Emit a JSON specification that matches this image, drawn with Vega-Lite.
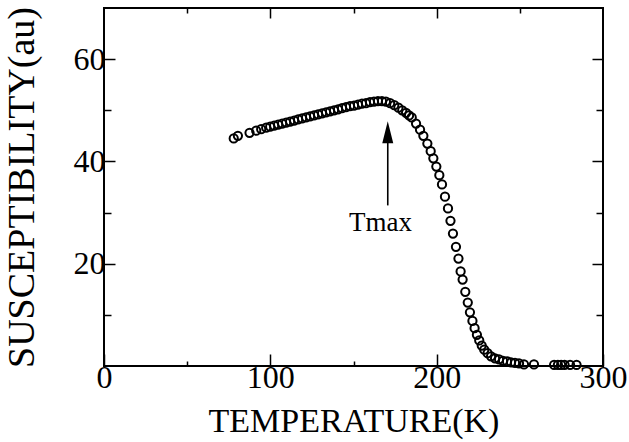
{
  "$schema": "https://vega.github.io/schema/vega-lite/v6.json",
  "width": 499,
  "height": 358,
  "autosize": {"type": "none"},
  "padding": {"left": 104, "top": 8, "right": 26, "bottom": 76},
  "background": "white",
  "config": {
    "view": {"stroke": "black", "strokeWidth": 2},
    "font": "Liberation Serif",
    "axis": {"grid": false, "domain": false, "tickColor": "black", "tickWidth": 1.5, "labelColor": "black", "titleColor": "black", "labelFont": "Liberation Serif", "titleFont": "Liberation Serif", "titleFontWeight": "normal", "labelOverlap": false, "labelFlush": false}
  },
  "datasets": {
    "chi": [
      {"T": 78.0, "chi": 44.5}, {"T": 80.5, "chi": 45.0}, {"T": 87.5, "chi": 45.6}, {"T": 91.5, "chi": 46.0}, {"T": 94.5, "chi": 46.3},
      {"T": 97.5, "chi": 46.6}, {"T": 99.9, "chi": 46.8}, {"T": 102.3, "chi": 47.0}, {"T": 104.7, "chi": 47.2}, {"T": 107.1, "chi": 47.4},
      {"T": 109.5, "chi": 47.6}, {"T": 111.9, "chi": 47.8}, {"T": 114.3, "chi": 48.0}, {"T": 116.7, "chi": 48.2}, {"T": 119.1, "chi": 48.4},
      {"T": 121.5, "chi": 48.6}, {"T": 123.9, "chi": 48.8}, {"T": 126.3, "chi": 49.0}, {"T": 128.7, "chi": 49.2}, {"T": 131.1, "chi": 49.4},
      {"T": 133.5, "chi": 49.6}, {"T": 135.9, "chi": 49.8}, {"T": 138.3, "chi": 50.0}, {"T": 140.7, "chi": 50.2}, {"T": 143.1, "chi": 50.4},
      {"T": 145.5, "chi": 50.6}, {"T": 147.9, "chi": 50.8}, {"T": 150.3, "chi": 50.9}, {"T": 152.7, "chi": 51.1}, {"T": 155.1, "chi": 51.3},
      {"T": 157.5, "chi": 51.4}, {"T": 159.9, "chi": 51.6}, {"T": 162.3, "chi": 51.7}, {"T": 164.7, "chi": 51.8}, {"T": 167.1, "chi": 51.8},
      {"T": 169.5, "chi": 51.7}, {"T": 172.0, "chi": 51.4}, {"T": 174.5, "chi": 51.0}, {"T": 177.0, "chi": 50.5}, {"T": 179.3, "chi": 50.0},
      {"T": 181.6, "chi": 49.5}, {"T": 183.4, "chi": 49.0}, {"T": 185.0, "chi": 48.6}, {"T": 187.6, "chi": 47.4}, {"T": 190.0, "chi": 46.2},
      {"T": 192.0, "chi": 45.0}, {"T": 194.4, "chi": 43.5}, {"T": 196.4, "chi": 42.0}, {"T": 198.0, "chi": 40.6}, {"T": 199.8, "chi": 39.0},
      {"T": 201.6, "chi": 37.3}, {"T": 203.2, "chi": 35.5}, {"T": 205.0, "chi": 33.1}, {"T": 206.8, "chi": 30.8}, {"T": 208.3, "chi": 28.4},
      {"T": 209.8, "chi": 25.9}, {"T": 211.6, "chi": 23.3}, {"T": 213.1, "chi": 21.0}, {"T": 214.4, "chi": 18.5}, {"T": 215.6, "chi": 16.9},
      {"T": 217.2, "chi": 14.5}, {"T": 218.7, "chi": 12.4}, {"T": 220.0, "chi": 10.5}, {"T": 221.5, "chi": 8.8}, {"T": 222.8, "chi": 7.4},
      {"T": 224.2, "chi": 6.1}, {"T": 225.6, "chi": 5.0}, {"T": 227.1, "chi": 4.0}, {"T": 228.6, "chi": 3.2}, {"T": 230.6, "chi": 2.5},
      {"T": 232.7, "chi": 1.9}, {"T": 235.1, "chi": 1.5}, {"T": 237.5, "chi": 1.3}, {"T": 239.9, "chi": 1.0}, {"T": 242.3, "chi": 0.9},
      {"T": 244.7, "chi": 0.7}, {"T": 247.1, "chi": 0.6}, {"T": 249.5, "chi": 0.5}, {"T": 252.5, "chi": 0.3}, {"T": 258.5, "chi": 0.3},
      {"T": 270.6, "chi": 0.2}, {"T": 272.9, "chi": 0.2}, {"T": 274.8, "chi": 0.2}, {"T": 276.9, "chi": 0.2}, {"T": 280.2, "chi": 0.2},
      {"T": 284.1, "chi": 0.2}
    ],
    "arrow": [{"T": 170.6, "y1": 31.4, "y2": 44.5, "head": 45.7}],
    "label": [{"T": 166.2, "y": 26.3, "text": "Tmax"}]
  },
  "layer": [
    {
      "data": {"name": "chi"},
      "mark": {"type": "point", "shape": "circle", "filled": false, "size": 68, "strokeWidth": 2, "color": "black", "opacity": 1},
      "encoding": {
        "x": {"field": "T", "type": "quantitative", "scale": {"domain": [0, 300], "nice": false, "zero": false},
          "axis": {"orient": "bottom", "values": [0, 50, 100, 150, 200, 250, 300],
            "labelExpr": "datum.value % 100 === 0 ? datum.label : ''",
            "tickSize": {"condition": {"test": "datum.value % 100 === 0", "value": -12}, "value": -5},
            "labelFontSize": 32, "labelPadding": 8, "title": "TEMPERATURE(K)", "titleFontSize": 34, "titlePadding": 4}},
        "y": {"field": "chi", "type": "quantitative", "scale": {"domain": [0, 70], "nice": false, "zero": false},
          "axis": {"orient": "left", "values": [10, 20, 30, 40, 50, 60],
            "labelExpr": "datum.value % 20 === 0 ? datum.label : ''",
            "tickSize": {"condition": {"test": "datum.value % 20 === 0", "value": -11}, "value": -7},
            "labelFontSize": 32, "labelPadding": 10, "title": "SUSCEPTIBILITY(au)", "titleFontSize": 38, "titlePadding": 32}}
      }
    },
    {
      "data": {"name": "arrow"},
      "mark": {"type": "rule", "color": "black", "strokeWidth": 1.6},
      "encoding": {
        "x": {"field": "T", "type": "quantitative",
          "axis": {"orient": "top", "values": [50, 100, 150, 200, 250], "labels": false, "title": null,
            "tickSize": {"condition": {"test": "datum.value % 100 === 0", "value": -10}, "value": -5}}},
        "y": {"field": "y1", "type": "quantitative",
          "axis": {"orient": "right", "values": [10, 20, 30, 40, 50, 60], "labels": false, "title": null,
            "tickSize": {"condition": {"test": "datum.value % 20 === 0", "value": -11}, "value": -7}}},
        "y2": {"field": "y2"}
      }
    },
    {
      "data": {"name": "arrow"},
      "mark": {"type": "point", "shape": "M0,-1L0.5,1L-0.5,1Z", "filled": true, "size": 484, "color": "black", "opacity": 1},
      "encoding": {
        "x": {"field": "T", "type": "quantitative", "axis": null},
        "y": {"field": "head", "type": "quantitative", "axis": null}
      }
    },
    {
      "data": {"name": "label"},
      "mark": {"type": "text", "font": "Liberation Serif", "fontSize": 27, "color": "black", "align": "center", "baseline": "alphabetic"},
      "encoding": {
        "x": {"field": "T", "type": "quantitative", "axis": null},
        "y": {"field": "y", "type": "quantitative", "axis": null},
        "text": {"field": "text"}
      }
    }
  ],
  "resolve": {"axis": {"x": "independent", "y": "independent"}}
}
